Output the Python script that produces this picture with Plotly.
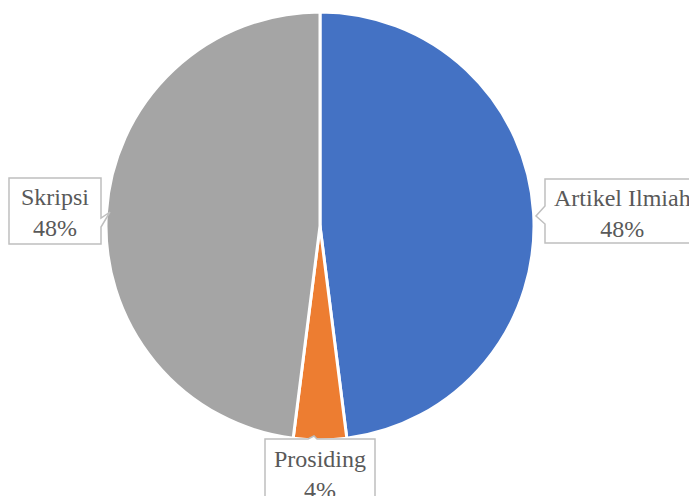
import plotly.graph_objects as go

# Source shares (percent)
categories = ["Artikel Ilmiah", "Prosiding", "Skripsi"]
shares = [48, 4, 48]
colors = ["#4472C4", "#ED7D31", "#A5A5A5"]

W, H = 689, 496


def px(x, y):
    """Pixel position -> paper coordinates."""
    return x / W, 1 - y / H


cx, cy, r = 320, 226, 214

fig = go.Figure(
    go.Pie(
        labels=categories,
        values=shares,
        sort=False,
        direction="clockwise",
        rotation=0,
        marker=dict(colors=colors, line=dict(color="white", width=3)),
        textinfo="none",
        hoverinfo="label+percent",
        domain=dict(
            x=[(cx - r) / W, (cx + r) / W],
            y=[1 - (cy + r) / H, 1 - (cy - r) / H],
        ),
        showlegend=False,
    )
)


def callout(points):
    """Closed SVG path in paper coordinates for a label box with pointer."""
    pts = [px(x, y) for x, y in points]
    d = "M " + " L ".join(f"{x:.5f},{y:.5f}" for x, y in pts) + " Z"
    return dict(
        type="path", xref="paper", yref="paper", path=d,
        line=dict(color="#BFBFBF", width=1.5), fillcolor="white", layer="above",
    )


shapes = [
    # Skripsi box, pointer on right side
    callout([(9, 178), (101, 178), (101, 218), (110, 212), (101, 227),
             (101, 244), (9, 244)]),
    # Artikel Ilmiah box, pointer on left side
    callout([(545, 179), (700, 179), (700, 243), (545, 243), (545, 224),
             (536, 216), (545, 206)]),
    # Prosiding box, pointer on top
    callout([(265, 439), (308, 439), (314, 436), (317, 439), (375, 439),
             (375, 510), (265, 510)]),
]

label_font = dict(family="Times New Roman", size=24, color="#595959")


def pct_label(i):
    return f"{categories[i]}<br>{round(shares[i] / sum(shares) * 100)}%"


label_pos = {0: (622, 213), 1: (320, 474), 2: (55, 212)}
annotations = []
for i, (x, y) in label_pos.items():
    ax, ay = px(x, y)
    annotations.append(dict(
        x=ax, y=ay, xref="paper", yref="paper", text=pct_label(i),
        showarrow=False, xanchor="center", yanchor="middle", font=label_font,
        align="center",
    ))

fig.update_layout(
    width=W, height=H,
    margin=dict(l=0, r=0, t=0, b=0),
    paper_bgcolor="white",
    plot_bgcolor="white",
    shapes=shapes,
    annotations=annotations,
)

fig.write_html("out.html")
